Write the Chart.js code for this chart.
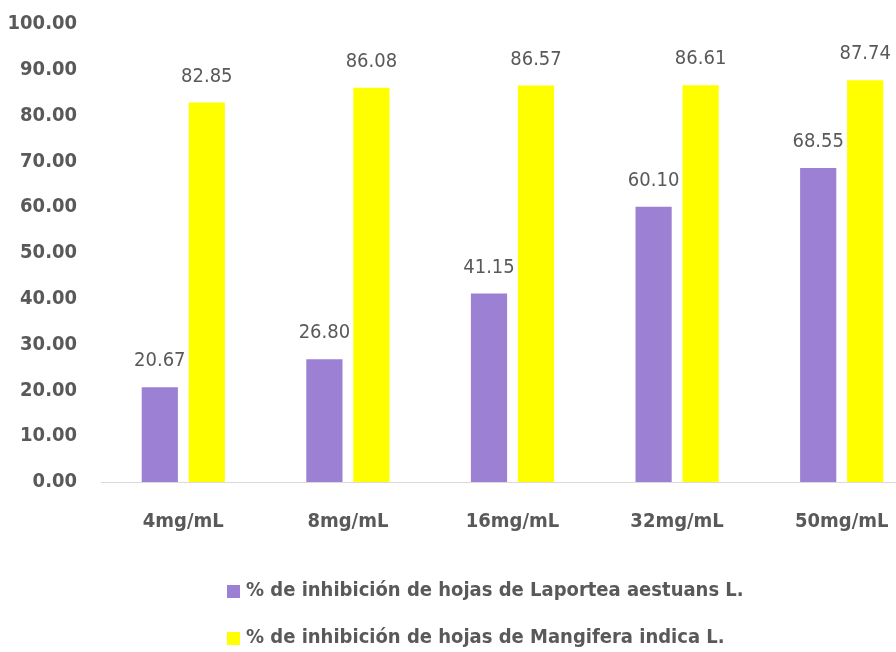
<!DOCTYPE html>
<html>
<head>
<meta charset="utf-8">
<script src="https://cdn.jsdelivr.net/npm/chart.js@4.4.0/dist/chart.umd.min.js"></script>
<style>
  html, body { margin: 0; padding: 0; background: #fff; overflow: hidden; }
  #wrap { width: 928px; height: 652px; }
</style>
</head>
<body>
<div id="wrap"><canvas id="inhibChart" width="928" height="652"></canvas></div>
<script>
// --- Data ---
const categories = ['4mg/mL', '8mg/mL', '16mg/mL', '32mg/mL', '50mg/mL'];
const laporteaValues = [20.67, 26.80, 41.15, 60.10, 68.55];
const mangiferaValues = [82.85, 86.08, 86.57, 86.61, 87.74];
const seriesNames = [
  '% de inhibición de hojas de Laportea aestuans L.',
  '% de inhibición de hojas de Mangifera indica L.'
];

const FONT = '"Liberation Sans Narrow", "DejaVu Sans Condensed", "Arial Narrow", sans-serif';
const TEXT_GREY = '#595959';

// value labels above each bar
const barValueLabels = {
  id: 'barValueLabels',
  afterDatasetsDraw(chart) {
    const ctx = chart.ctx;
    ctx.save();
    ctx.font = '20px ' + FONT;
    ctx.fillStyle = TEXT_GREY;
    ctx.textAlign = 'center';
    ctx.textBaseline = 'alphabetic';
    chart.data.datasets.forEach((ds, i) => {
      chart.getDatasetMeta(i).data.forEach((bar, j) => {
        ctx.fillText(ds.data[j].toFixed(2), bar.x, bar.y - 21);
      });
    });
    ctx.restore();
  }
};

// stacked legend under the chart, left aligned
const stackedLegend = {
  id: 'stackedLegend',
  afterDraw(chart) {
    const ctx = chart.ctx;
    ctx.save();
    ctx.font = 'bold 20px ' + FONT;
    ctx.textAlign = 'left';
    ctx.textBaseline = 'middle';
    chart.data.datasets.forEach((ds, i) => {
      const y = 591 + i * 47;
      ctx.fillStyle = ds.backgroundColor;
      ctx.fillRect(227, y - 6, 13, 13);
      ctx.fillStyle = TEXT_GREY;
      ctx.fillText(ds.label, 246, y);
    });
    ctx.restore();
  }
};

const ctxInhib = document.getElementById('inhibChart').getContext('2d');
new Chart(ctxInhib, {
  type: 'bar',
  data: {
    labels: categories,
    datasets: [
      { label: seriesNames[0], data: laporteaValues, backgroundColor: '#9b80d3' },
      { label: seriesNames[1], data: mangiferaValues, backgroundColor: '#ffff00' }
    ]
  },
  options: {
    responsive: false,
    animation: false,
    categoryPercentage: 0.571,
    barPercentage: 0.77,
    layout: { padding: { top: 24, right: 4, bottom: 110, left: 0 } },
    plugins: {
      legend: { display: false },
      tooltip: { enabled: false }
    },
    scales: {
      x: {
        grid: { display: false, drawTicks: false },
        border: { display: true, color: '#d9d9d9', width: 1 },
        ticks: { color: TEXT_GREY, padding: 28, font: { family: FONT, size: 20, weight: 'bold' } },
        afterFit(scale) { scale.height = 60; scale.paddingLeft = 0; scale.paddingRight = 0; }
      },
      y: {
        min: 0,
        max: 100,
        grid: { display: false, drawTicks: false },
        border: { display: false },
        ticks: {
          stepSize: 10,
          color: TEXT_GREY,
          padding: 24,
          font: { family: FONT, size: 20, weight: 'bold' },
          callback: v => v.toFixed(2)
        },
        afterFit(scale) { scale.width = 101; scale.paddingTop = 0; scale.paddingBottom = 0; }
      }
    }
  },
  plugins: [barValueLabels, stackedLegend]
});
</script>
</body>
</html>
